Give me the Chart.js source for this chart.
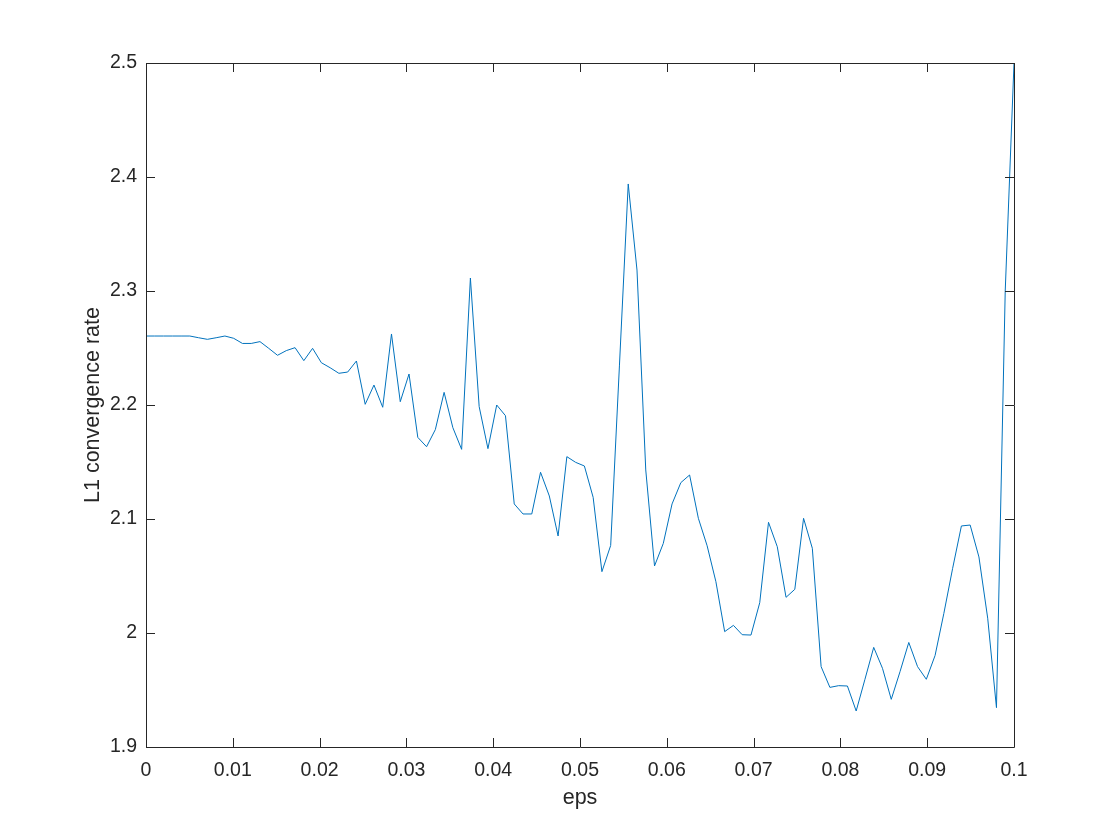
<!DOCTYPE html>
<html>
<head>
<meta charset="utf-8">
<title>L1 convergence rate vs eps</title>
<script src="https://cdn.jsdelivr.net/npm/chart.js@4/dist/chart.umd.min.js"></script>
<style>
  html, body { margin: 0; padding: 0; background: #fff; }
  #wrap { width: 1120px; height: 840px; }
</style>
</head>
<body>
<div id="wrap"><canvas id="chart" width="1120" height="840"></canvas></div>
<script>
// ─── Data ─────────────────────────────────────────────────────────
// 100 samples, evenly spaced on [0, 0.1] (linspace)
const EPS_MAX = 0.1;
const RATE = [
    2.2605, 2.2605, 2.2605, 2.2605, 2.2605, 2.2605, 2.2590, 2.2576, 2.2590, 2.2605,
    2.2585, 2.2540, 2.2540, 2.2556, 2.2497, 2.2436, 2.2477, 2.2503, 2.2389, 2.2497,
    2.2371, 2.2327, 2.2278, 2.2289, 2.2386, 2.2006, 2.2175, 2.1980, 2.2623, 2.2029,
    2.2272, 2.1716, 2.1634, 2.1784, 2.2111, 2.1801, 2.1611, 2.3114, 2.1986, 2.1617,
    2.2000, 2.1906, 2.1132, 2.1044, 2.1044, 2.1410, 2.1202, 2.0851, 2.1547, 2.1497,
    2.1465, 2.1190, 2.0538, 2.0768, 2.2350, 2.3939, 2.3184, 2.1430, 2.0588, 2.0786,
    2.1132, 2.1319, 2.1386, 2.1006, 2.0765, 2.0450, 2.0012, 2.0067, 1.9985, 1.9982,
    2.0266, 2.0971, 2.0757, 2.0313, 2.0383, 2.1006, 2.0743, 1.9705, 1.9523, 1.9538,
    1.9535, 1.9316, 1.9594, 1.9874, 1.9690, 1.9418, 1.9661, 1.9917, 1.9705, 1.9594,
    1.9803, 2.0172, 2.0567, 2.0939, 2.0947, 2.0667, 2.0130, 1.9345, 2.3000, 2.5000,
];
const EPS = RATE.map((_, i) => i * EPS_MAX / (RATE.length - 1));

const X_TICKS = [0, 0.01, 0.02, 0.03, 0.04, 0.05, 0.06, 0.07, 0.08, 0.09, 0.1];
const Y_TICKS = [1.9, 2, 2.1, 2.2, 2.3, 2.4, 2.5];

const X_TITLE = 'eps';
const Y_TITLE = 'L1 convergence rate';

// ─── Style ────────────────────────────────────────────────────────
const AXIS_COLOR = '#262626';
const LINE_COLOR = '#0072BD';
const FAMILY = '"Liberation Sans", Arial, Helvetica, sans-serif';
const TICK_FONT = { family: FAMILY, size: 19.5 };
const TITLE_FONT = { family: FAMILY, size: 21.5 };
const TICK_LEN = 9;

// box around the axes with inward tick marks on all four sides
const boxAxes = {
    id: 'boxAxes',
    afterDraw(chart) {
        const { ctx, chartArea: a, scales } = chart;
        ctx.save();
        ctx.strokeStyle = AXIS_COLOR;
        ctx.lineWidth = 1;
        ctx.beginPath();
        ctx.rect(Math.round(a.left) + 0.5, Math.round(a.top) + 0.5,
                 Math.round(a.right - a.left), Math.round(a.bottom - a.top));
        X_TICKS.forEach(v => {
            const x = Math.round(scales.x.getPixelForValue(v)) + 0.5;
            ctx.moveTo(x, a.bottom); ctx.lineTo(x, a.bottom - TICK_LEN);
            ctx.moveTo(x, a.top);    ctx.lineTo(x, a.top + TICK_LEN);
        });
        Y_TICKS.forEach(v => {
            const y = Math.round(scales.y.getPixelForValue(v)) + 0.5;
            ctx.moveTo(a.left, y);  ctx.lineTo(a.left + TICK_LEN, y);
            ctx.moveTo(a.right, y); ctx.lineTo(a.right - TICK_LEN, y);
        });
        ctx.stroke();
        ctx.restore();
    },
};

const fmt = v => String(+(+v).toFixed(4));

new Chart(document.getElementById('chart'), {
    type: 'line',
    data: {
        datasets: [{
            data: EPS.map((x, i) => ({ x, y: RATE[i] })),
            borderColor: LINE_COLOR,
            borderWidth: 1,
            pointRadius: 0,
            tension: 0,
            fill: false,
        }],
    },
    options: {
        responsive: false,
        animation: false,
        layout: { padding: { left: 0, top: 63, right: 106, bottom: 0 } },
        plugins: { legend: { display: false }, tooltip: { enabled: false } },
        scales: {
            x: {
                type: 'linear',
                min: 0,
                max: EPS_MAX,
                grid: { display: false, drawTicks: false },
                border: { display: false },
                afterBuildTicks: s => { s.ticks = X_TICKS.map(value => ({ value })); },
                afterFit: s => { s.height = 93; },
                ticks: { color: AXIS_COLOR, font: TICK_FONT, padding: 12, maxRotation: 0, callback: fmt },
                title: { display: true, text: X_TITLE, color: AXIS_COLOR, font: TITLE_FONT, padding: { top: 0, bottom: 29.5 } },
            },
            y: {
                type: 'linear',
                min: 1.9,
                max: 2.5,
                grid: { display: false, drawTicks: false },
                border: { display: false },
                afterBuildTicks: s => { s.ticks = Y_TICKS.map(value => ({ value })); },
                afterFit: s => { s.width = 146; },
                ticks: { color: AXIS_COLOR, font: TICK_FONT, padding: 9, callback: fmt },
                title: { display: true, text: Y_TITLE, color: AXIS_COLOR, font: TITLE_FONT, padding: { top: 80.5, bottom: 0 } },
            },
        },
    },
    plugins: [boxAxes],
});
</script>
</body>
</html>
